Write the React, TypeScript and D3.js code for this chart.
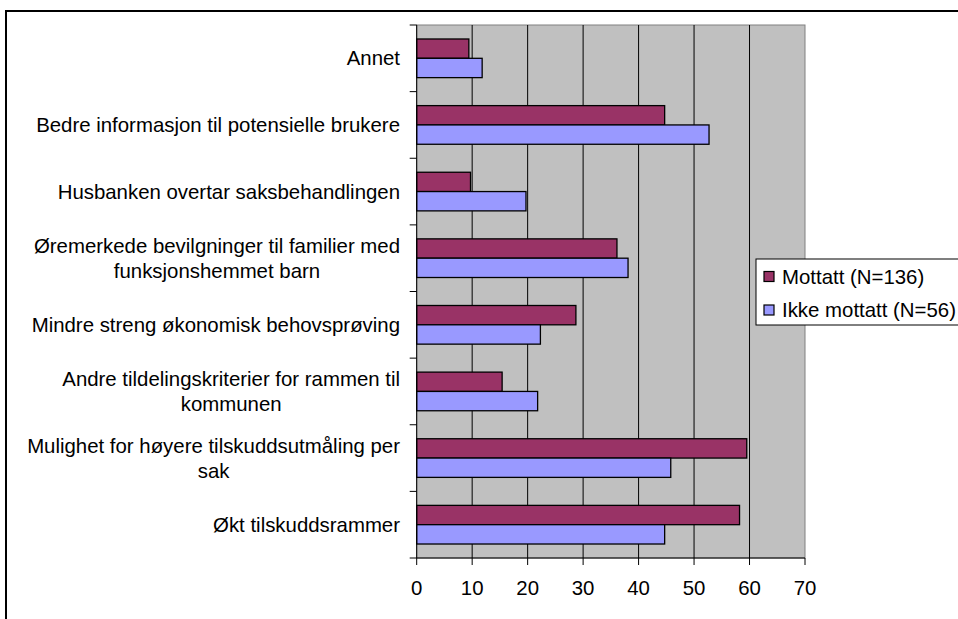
import React, { useEffect, useRef } from "react";
import * as d3 from "d3";

const categoryLines: string[][] = [
  ["Annet"],
  ["Bedre informasjon til potensielle brukere"],
  ["Husbanken overtar saksbehandlingen"],
  ["Øremerkede bevilgninger til familier med", "funksjonshemmet barn"],
  ["Mindre streng økonomisk behovsprøving"],
  ["Andre tildelingskriterier for rammen til", "kommunen"],
  ["Mulighet for høyere tilskuddsutmåling per", "sak"],
  ["Økt tilskuddsrammer"],
];
const categories = categoryLines.map((l) => l.join(" "));
const mottatt = [9.4, 44.7, 9.7, 36.1, 28.7, 15.4, 59.5, 58.2];
const ikkeMottatt = [11.8, 52.7, 19.7, 38.1, 22.3, 21.8, 45.8, 44.7];
const xTicks = [0, 10, 20, 30, 40, 50, 60, 70];
const seriesNames = ["Mottatt (N=136)", "Ikke mottatt (N=56)"];
const seriesColors = ["#993366", "#9999FF"];

const W = 958;
const H = 619;
const FONT = "'Liberation Sans', Arial, sans-serif";
const FS = 20.4;

export default function App() {
  const ref = useRef<SVGSVGElement | null>(null);

  useEffect(() => {
    document.body.style.margin = "0";
    document.body.style.overflow = "hidden";
    const svg = d3.select(ref.current);
    svg.selectAll("*").remove();

    const left = 416.7, right = 805, top = 25, bottom = 558;
    const x = d3.scaleLinear().domain([0, 70]).range([left, right]);
    const y = d3.scaleBand<string>().domain(categories).range([top, bottom]).padding(0);
    const step = y.step();
    const barH = step * 0.29;
    const off = (step - 2 * barH) / 2;

    // outer frame
    svg.append("rect").attr("x", 6).attr("y", 11).attr("width", 1000).attr("height", 700)
      .attr("fill", "white").attr("stroke", "black").attr("stroke-width", 2);

    // plot area
    svg.append("rect").attr("x", left).attr("y", top).attr("width", right - left).attr("height", bottom - top)
      .attr("fill", "#C0C0C0").attr("stroke", "#808080").attr("stroke-width", 1);

    // grid
    svg.append("g").selectAll("line").data(xTicks.filter((t) => t > 0 && t < 70)).join("line")
      .attr("x1", (d) => x(d)).attr("x2", (d) => x(d)).attr("y1", top).attr("y2", bottom)
      .attr("stroke", "black").attr("stroke-width", 1);

    // bars
    const series = [mottatt, ikkeMottatt];
    series.forEach((vals, si) => {
      svg.append("g").selectAll("rect").data(vals).join("rect")
        .attr("x", x(0))
        .attr("y", (_d, i) => (y(categories[i]) as number) + off + si * barH)
        .attr("width", (d) => x(d) - x(0))
        .attr("height", barH)
        .attr("fill", seriesColors[si])
        .attr("stroke", "black").attr("stroke-width", 1.3);
    });

    // axes lines
    svg.append("line").attr("x1", left).attr("x2", left).attr("y1", top).attr("y2", bottom)
      .attr("stroke", "black").attr("stroke-width", 1);
    svg.append("line").attr("x1", left).attr("x2", right).attr("y1", bottom).attr("y2", bottom)
      .attr("stroke", "black").attr("stroke-width", 1);

    // y ticks at boundaries
    const bounds = categories.map((c) => y(c) as number).concat([bottom]);
    svg.append("g").selectAll("line").data(bounds).join("line")
      .attr("x1", left - 7).attr("x2", left).attr("y1", (d) => d).attr("y2", (d) => d)
      .attr("stroke", "black").attr("stroke-width", 1);

    // x ticks
    svg.append("g").selectAll("line").data(xTicks).join("line")
      .attr("x1", (d) => x(d)).attr("x2", (d) => x(d)).attr("y1", bottom).attr("y2", bottom + 7)
      .attr("stroke", "black").attr("stroke-width", 1);
    svg.append("g").selectAll("text").data(xTicks).join("text")
      .attr("x", (d) => x(d)).attr("y", 595)
      .attr("text-anchor", "middle").attr("font-family", FONT).attr("font-size", FS)
      .attr("fill", "black").text((d) => String(d));

    // category labels
    const labelRight = 400;
    const lineGap = 25;
    categoryLines.forEach((lines, i) => {
      const cy = (y(categories[i]) as number) + step / 2;
      if (lines.length === 1) {
        svg.append("text").attr("x", labelRight).attr("y", cy).attr("dy", "0.35em")
          .attr("text-anchor", "end").attr("font-family", FONT).attr("font-size", FS)
          .attr("fill", "black").text(lines[0]);
      } else {
        const g = svg.append("g");
        const texts = lines.map((ln, li) =>
          g.append("text")
            .attr("y", cy - ((lines.length - 1) * lineGap) / 2 + li * lineGap)
            .attr("dy", "0.35em")
            .attr("text-anchor", "middle").attr("font-family", FONT).attr("font-size", FS)
            .attr("fill", "black").text(ln)
        );
        const widths = texts.map((t) => (t.node() as SVGTextElement).getComputedTextLength());
        const maxW = Math.max(...widths);
        texts.forEach((t) => t.attr("x", labelRight - maxW / 2));
      }
    });

    // legend
    const lg = svg.append("g");
    lg.append("rect").attr("x", 756).attr("y", 259).attr("width", 300).attr("height", 66)
      .attr("fill", "white").attr("stroke", "black").attr("stroke-width", 1);
    seriesNames.forEach((name, i) => {
      const cy = 276.5 + i * 33.5;
      lg.append("rect").attr("x", 764).attr("y", cy - 5).attr("width", 10).attr("height", 10)
        .attr("fill", seriesColors[i]).attr("stroke", "black").attr("stroke-width", 1.2);
      lg.append("text").attr("x", 782).attr("y", cy).attr("dy", "0.35em")
        .attr("font-family", FONT).attr("font-size", FS).attr("fill", "black").text(name);
    });
  }, []);

  return (
    <svg ref={ref} width={W} height={H}
      style={{ position: "absolute", left: 0, top: 0, display: "block", background: "white" }} />
  );
}
